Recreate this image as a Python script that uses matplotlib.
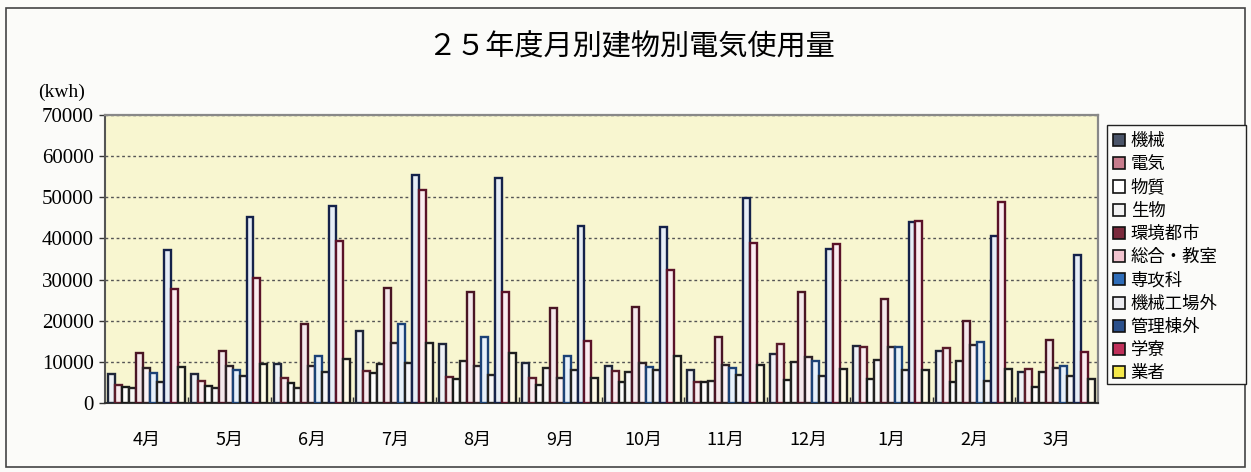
import numpy as np
import matplotlib.pyplot as plt
from matplotlib.patches import Rectangle, Patch

plt.rcParams['font.family'] = ['Noto Sans CJK JP', 'DejaVu Sans']

# ========== Data (kWh) ==========
months = ["4月", "5月", "6月", "7月", "8月", "9月", "10月", "11月", "12月", "1月", "2月", "3月"]
buildings = ["機械", "電気", "物質", "生物", "環境都市", "総合・教室", "専攻科",
             "機械工場外", "管理棟外", "学寮", "業者"]

kikai       = [7000, 7000, 9600, 17400, 14300, 9800, 9000, 7900, 11800, 13800, 12600, 7500]
denki       = [4300, 5300, 6000, 7700, 6400, 6100, 7700, 5000, 14400, 13600, 13400, 8300]
busshitsu   = [4000, 4200, 4800, 7200, 5900, 4300, 5100, 5100, 5600, 5800, 5000, 3900]
seibutsu    = [3600, 3600, 3600, 9400, 10200, 8400, 7600, 5300, 10000, 10500, 10300, 7600]
kankyo      = [12100, 12700, 19200, 27900, 26900, 23100, 23300, 16100, 27000, 25200, 19900, 15400]
sogo        = [8600, 9000, 9100, 14500, 9000, 6100, 9800, 9200, 11100, 13600, 14200, 8500]
senkoka     = [7200, 7900, 11400, 19200, 16100, 11500, 8800, 8400, 10200, 13600, 14900, 8900]
kojo        = [5200, 6600, 7500, 9800, 6900, 8000, 8000, 6700, 6500, 8100, 5300, 6500]
kanri       = [37100, 45200, 48000, 55300, 54800, 43000, 42700, 49800, 37400, 44000, 40500, 36000]
ryo         = [27600, 30500, 39300, 51800, 27000, 15100, 32300, 38800, 38600, 44200, 48900, 12400]
gyosha      = [8800, 9400, 10800, 14700, 12200, 6100, 11500, 9200, 8300, 8100, 8300, 5900]

series = [kikai, denki, busshitsu, seibutsu, kankyo, sogo, senkoka, kojo, kanri, ryo, gyosha]

# bar tints / outlines and legend swatch colours
bar_face = ["#eef1f6", "#f8ecef", "#fdfdfb", "#f8f8f6", "#f4e8eb", "#fcf3f5",
            "#e8f1fa", "#f6f6f8", "#e6edf6", "#faecf0", "#fffce8"]
bar_edge = ["#1f2638", "#5a1c2a", "#1a1a1a", "#222222", "#4a1524", "#2e2226",
            "#1c4276", "#222222", "#15224a", "#5a1228", "#1e1e1e"]
swatch = ["#4a5468", "#c77c8c", "#ffffff", "#f2f2f2", "#7a2a3c", "#f2c4cf",
          "#2f6db8", "#ececf0", "#2a4f8a", "#c0305a", "#f5e84a"]

# ========== Figure ==========
fig = plt.figure(figsize=(12.51, 4.72), dpi=100)
fig.patch.set_facecolor("#fbfbf9")
fig.patches.append(Rectangle((6 / 1251, 5 / 472), 1239 / 1251, 459 / 472,
                             transform=fig.transFigure, fill=False,
                             edgecolor="#444444", linewidth=1.2))

ax = fig.add_axes([105 / 1251, (472 - 403) / 472, 993 / 1251, 288 / 472])
ax.set_facecolor("#f8f6d0")

x = np.arange(len(months))
n = len(series)
w = 0.084
for k, vals in enumerate(series):
    ax.bar(x + (k - (n - 1) / 2) * w, vals, width=w, color=bar_face[k],
           edgecolor=bar_edge[k], linewidth=1.7, zorder=3)

ax.set_xlim(-0.5, len(months) - 0.5)
ax.set_ylim(0, 70000)
ax.set_yticks(np.arange(0, 70001, 10000))
ax.set_yticklabels([str(v) for v in range(0, 70001, 10000)],
                   family="Liberation Serif", fontsize=15)
ax.set_xticks(x)
ax.set_xticklabels(months, fontsize=13)
ax.set_xticks(x[:-1] + 0.5, minor=True)
ax.tick_params(axis="x", which="major", length=0, pad=20)
ax.tick_params(axis="x", which="minor", direction="in", length=4, width=1, color="#333333")
ax.tick_params(axis="y", length=4, width=1, color="#333333", pad=4)

ax.grid(axis="y", linestyle=(0, (2, 2)), color="#555555", linewidth=1, zorder=1)
ax.set_axisbelow(True)
for side in ["top", "right"]:
    ax.spines[side].set_color("#888888")
    ax.spines[side].set_linewidth(1.6)
ax.spines["left"].set_color("#555555")
ax.spines["left"].set_linewidth(1.5)
ax.spines["bottom"].set_color("#333333")
ax.spines["bottom"].set_linewidth(1.5)

fig.text(631 / 1251, (472 - 47) / 472, "２５年度月別建物別電気使用量",
         ha="center", va="center", fontsize=21)
fig.text(62 / 1251, (472 - 92) / 472, "(kwh)", ha="center", va="center",
         family="Liberation Serif", fontsize=14)

# legend box drawn by hand so its width matches
fig.patches.append(Rectangle((1107 / 1251, (472 - 384) / 472), 139 / 1251, 259 / 472,
                             transform=fig.transFigure, facecolor="#fbfbf9",
                             edgecolor="#222222", linewidth=1.0))
handles = [Patch(facecolor=swatch[k], edgecolor="#111111", linewidth=1.2)
           for k in range(n)]
leg = fig.legend(handles, buildings, loc="upper left",
                 bbox_to_anchor=(1108 / 1251, (472 - 127) / 472),
                 fontsize=12.5, frameon=False, borderaxespad=0,
                 handlelength=0.7, handleheight=0.7, handletextpad=0.3,
                 labelspacing=0.3, borderpad=0.3)

plt.savefig("out.png", dpi=100, facecolor=fig.get_facecolor())
plt.close()
